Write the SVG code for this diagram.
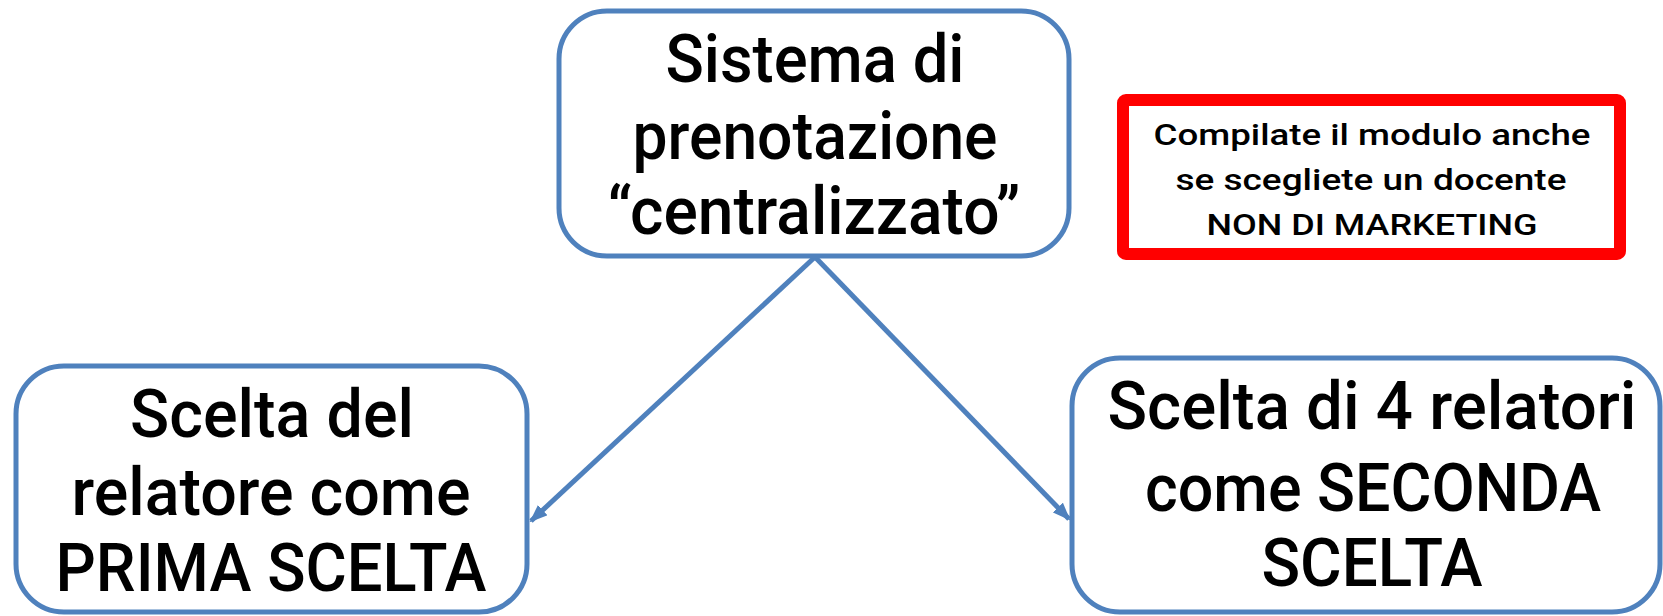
<svg xmlns="http://www.w3.org/2000/svg" width="1663" height="616" viewBox="0 0 1663 616">
<style>
.box{fill:#fff;stroke:#4F81BD;stroke-width:5}
.big{font-family:Roboto,"DejaVu Sans",sans-serif;font-size:66px;font-weight:500;fill:#000;text-anchor:middle}
.small{font-family:Roboto,"DejaVu Sans",sans-serif;font-size:30px;font-weight:500;fill:#000;text-anchor:middle}
.conn{stroke:#4F81BD;stroke-width:5;fill:none;marker-end:url(#ah)}
</style>
<defs>
<marker id="ah" markerUnits="userSpaceOnUse" markerWidth="18" markerHeight="14" refX="16" refY="7" orient="auto">
<path d="M0,0 L18,7 L0,14 Z" fill="#4F81BD"/>
</marker>
</defs>
<rect width="1663" height="616" fill="#fff"/>
<g id="connectors">
<line class="conn" x1="815" y1="257" x2="531" y2="521"/>
<line class="conn" x1="815" y1="257" x2="1069" y2="519"/>
</g>
<g id="top">
<rect class="box" x="559" y="11" width="510" height="245" rx="48"/>
<text class="big" x="815" y="82" textLength="299" lengthAdjust="spacingAndGlyphs">Sistema di</text>
<text class="big" x="815" y="159" textLength="365" lengthAdjust="spacingAndGlyphs">prenotazione</text>
<text class="big" x="814" y="234" textLength="413" lengthAdjust="spacingAndGlyphs">“centralizzato”</text>
</g>
<g id="note">
<rect x="1123" y="100" width="497" height="154" rx="3" fill="#fff" stroke="#FF0000" stroke-width="12"/>
<text class="small" x="1372" y="145" textLength="437" lengthAdjust="spacingAndGlyphs">Compilate il modulo anche</text>
<text class="small" x="1371" y="190" textLength="391" lengthAdjust="spacingAndGlyphs">se scegliete un docente</text>
<text class="small" x="1372" y="235" textLength="331" lengthAdjust="spacingAndGlyphs">NON DI MARKETING</text>
</g>
<g id="left">
<rect class="box" x="16" y="366" width="511" height="246" rx="48"/>
<text class="big" x="272" y="437" textLength="284" lengthAdjust="spacingAndGlyphs">Scelta del</text>
<text class="big" x="271" y="515" textLength="399" lengthAdjust="spacingAndGlyphs">relatore come</text>
<text class="big" x="271" y="591" textLength="431" lengthAdjust="spacingAndGlyphs">PRIMA SCELTA</text>
</g>
<g id="right">
<rect class="box" x="1072" y="358" width="588" height="254" rx="48"/>
<text class="big" x="1372" y="429" textLength="529" lengthAdjust="spacingAndGlyphs">Scelta di 4 relatori</text>
<text class="big" x="1373" y="511" textLength="456" lengthAdjust="spacingAndGlyphs">come SECONDA</text>
<text class="big" x="1372" y="586" textLength="221" lengthAdjust="spacingAndGlyphs">SCELTA</text>
</g>
</svg>
